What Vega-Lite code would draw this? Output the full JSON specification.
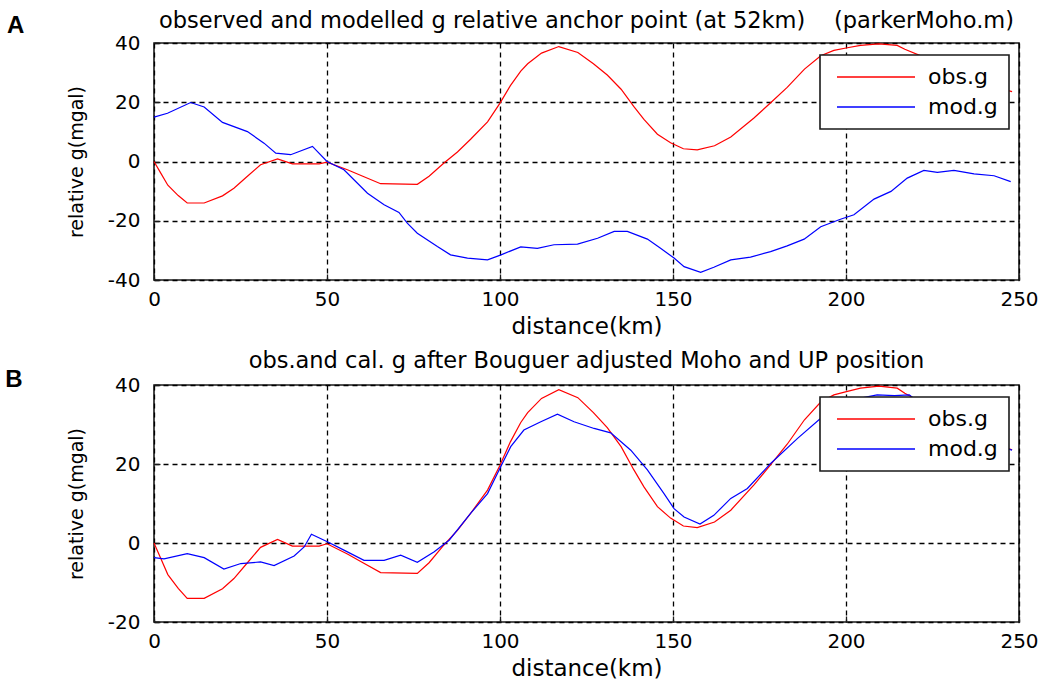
{
  "$schema": "https://vega.github.io/schema/vega-lite/v6.json",
  "background": "white",
  "padding": {"left": 4, "top": 8, "right": 0, "bottom": 0},
  "bounds": "flush",
  "spacing": 105,
  "config": {
    "font": "DejaVu Sans",
    "view": {"stroke": "#1a1a1a", "strokeWidth": 1.6},
    "axis": {
      "domain": false,
      "grid": true,
      "gridColor": "#000000",
      "gridDash": [5, 4],
      "gridOpacity": 1,
      "gridWidth": 1.3,
      "ticks": true,
      "tickSize": -6,
      "tickColor": "#1a1a1a",
      "tickWidth": 1.3,
      "labelFont": "DejaVu Sans",
      "labelFontSize": 20,
      "labelColor": "#000000",
      "labelPadding": 15,
      "labelExpr": "toString(datum.value)",
      "titleFont": "DejaVu Sans",
      "titleFontWeight": "normal",
      "titleColor": "#000000"
    },
    "axisX": {"titleFontSize": 23, "titlePadding": 6, "labelFlush": false},
    "axisY": {"titleFontSize": 19, "titlePadding": 21, "labelPadding": 20, "labelFlush": false},
    "title": {
      "font": "DejaVu Sans",
      "fontSize": 22.5,
      "fontWeight": "normal",
      "color": "#000000",
      "anchor": "middle",
      "baseline": "alphabetic"
    },
    "legend": {
      "orient": "none",
      "legendX": 666,
      "legendY": 12,
      "fillColor": "#ffffff",
      "strokeColor": "#1a1a1a",
      "strokeWidth": 1.6,
      "padding": 11,
      "symbolType": "stroke",
      "symbolSize": 6084,
      "symbolStrokeWidth": 1.5,
      "symbolOffset": 5,
      "labelOffset": 12,
      "labelFont": "DejaVu Sans",
      "labelFontSize": 22,
      "labelColor": "#000000",
      "clipHeight": 22,
      "rowPadding": 8
    }
  },
  "datasets": {
    "obs": [
      {"distance": 0, "g": 0}, {"distance": 2, "g": -4}, {"distance": 4, "g": -8},
      {"distance": 7, "g": -11.5}, {"distance": 9.6, "g": -14}, {"distance": 14.5, "g": -14},
      {"distance": 19.8, "g": -11.6}, {"distance": 23.1, "g": -9}, {"distance": 27, "g": -5},
      {"distance": 30.8, "g": -1.1}, {"distance": 35.7, "g": 0.9}, {"distance": 40, "g": -0.8},
      {"distance": 47.7, "g": -0.8}, {"distance": 50, "g": -0.2}, {"distance": 55.9, "g": -2.8},
      {"distance": 60, "g": -4.8}, {"distance": 65.5, "g": -7.5}, {"distance": 76.1, "g": -7.7},
      {"distance": 79.5, "g": -5}, {"distance": 83.8, "g": -0.5}, {"distance": 87.7, "g": 3.2},
      {"distance": 91.5, "g": 7.5}, {"distance": 96.4, "g": 13.4}, {"distance": 100, "g": 19.7},
      {"distance": 103, "g": 25.6}, {"distance": 106, "g": 30.5}, {"distance": 108, "g": 33},
      {"distance": 112, "g": 36.6}, {"distance": 117, "g": 38.8}, {"distance": 122.5, "g": 36.8},
      {"distance": 127, "g": 33}, {"distance": 131, "g": 29.2}, {"distance": 135, "g": 24.4},
      {"distance": 138.7, "g": 18.5}, {"distance": 141.6, "g": 14.2}, {"distance": 145.5, "g": 9.2},
      {"distance": 149.3, "g": 6.3}, {"distance": 153, "g": 4.3}, {"distance": 157, "g": 3.9},
      {"distance": 162, "g": 5.3}, {"distance": 166.7, "g": 8.3}, {"distance": 173.4, "g": 14.7},
      {"distance": 178.3, "g": 19.9}, {"distance": 183, "g": 25}, {"distance": 188, "g": 31.2},
      {"distance": 192.7, "g": 35.7}, {"distance": 196.5, "g": 37.5}, {"distance": 200.4, "g": 38.4},
      {"distance": 204.2, "g": 39.2}, {"distance": 209.5, "g": 39.7}, {"distance": 214.8, "g": 39.2},
      {"distance": 217, "g": 37.9}, {"distance": 222, "g": 35.5}, {"distance": 228, "g": 32.5},
      {"distance": 234, "g": 29.5}, {"distance": 240, "g": 26.5}, {"distance": 245, "g": 24.5},
      {"distance": 248, "g": 23.6}
    ],
    "modA": [
      {"distance": 0, "g": 15}, {"distance": 3.9, "g": 16.3}, {"distance": 10.6, "g": 19.9},
      {"distance": 14.5, "g": 18.4}, {"distance": 19.8, "g": 13.2}, {"distance": 27, "g": 10.1},
      {"distance": 31.8, "g": 6.2}, {"distance": 35.2, "g": 2.8}, {"distance": 39.5, "g": 2.3},
      {"distance": 45.8, "g": 5.1}, {"distance": 50, "g": 0}, {"distance": 54.9, "g": -2.8},
      {"distance": 61.7, "g": -10.7}, {"distance": 66.5, "g": -14.6}, {"distance": 70.8, "g": -17.2},
      {"distance": 73.2, "g": -20.8}, {"distance": 76.1, "g": -24.2}, {"distance": 81.9, "g": -28.7},
      {"distance": 85.7, "g": -31.5}, {"distance": 90.6, "g": -32.6}, {"distance": 96.4, "g": -33.2},
      {"distance": 100.3, "g": -31.5}, {"distance": 106, "g": -28.8}, {"distance": 110.8, "g": -29.3},
      {"distance": 115.6, "g": -28.1}, {"distance": 122.4, "g": -27.9}, {"distance": 128.2, "g": -25.9},
      {"distance": 133, "g": -23.6}, {"distance": 136.8, "g": -23.6}, {"distance": 142.6, "g": -26.2},
      {"distance": 146.4, "g": -29.3}, {"distance": 150.3, "g": -32.6}, {"distance": 153.2, "g": -35.5},
      {"distance": 158, "g": -37.4}, {"distance": 161.8, "g": -35.7}, {"distance": 166.7, "g": -33.2},
      {"distance": 172.4, "g": -32.3}, {"distance": 178.2, "g": -30.4}, {"distance": 183, "g": -28.5},
      {"distance": 187.9, "g": -26.2}, {"distance": 192.7, "g": -22}, {"distance": 198.4, "g": -19.5},
      {"distance": 202.3, "g": -18}, {"distance": 208.1, "g": -12.7}, {"distance": 213, "g": -10.1},
      {"distance": 217.7, "g": -5.6}, {"distance": 222.5, "g": -3}, {"distance": 226.4, "g": -3.7},
      {"distance": 231.2, "g": -3}, {"distance": 237, "g": -4.2}, {"distance": 242.8, "g": -4.8},
      {"distance": 247.6, "g": -6.8}
    ],
    "modB": [
      {"distance": 0, "g": -3.7}, {"distance": 2.9, "g": -4}, {"distance": 9.6, "g": -2.7},
      {"distance": 14.5, "g": -3.7}, {"distance": 20.2, "g": -6.6}, {"distance": 25.1, "g": -5.2},
      {"distance": 30.8, "g": -4.8}, {"distance": 34.7, "g": -5.7}, {"distance": 40.5, "g": -3.3},
      {"distance": 43.4, "g": -1}, {"distance": 45.5, "g": 2.2}, {"distance": 50.1, "g": 0.3},
      {"distance": 54.9, "g": -1.8}, {"distance": 60.7, "g": -4.4}, {"distance": 66.5, "g": -4.4},
      {"distance": 71.3, "g": -3.1}, {"distance": 76.1, "g": -4.9}, {"distance": 81, "g": -2.2},
      {"distance": 85.3, "g": 0.7}, {"distance": 91.5, "g": 7.5}, {"distance": 96.4, "g": 12.5},
      {"distance": 100.2, "g": 19.3}, {"distance": 103.1, "g": 24.4}, {"distance": 106.9, "g": 28.6},
      {"distance": 111.8, "g": 30.7}, {"distance": 116.6, "g": 32.6}, {"distance": 121.4, "g": 30.7},
      {"distance": 127.2, "g": 29}, {"distance": 132, "g": 27.9}, {"distance": 137.8, "g": 23.5},
      {"distance": 142.6, "g": 18.5}, {"distance": 147.4, "g": 12.5}, {"distance": 150.3, "g": 8.7},
      {"distance": 153.2, "g": 6.6}, {"distance": 157.8, "g": 4.8}, {"distance": 161.8, "g": 7},
      {"distance": 166.7, "g": 11.3}, {"distance": 171.5, "g": 13.8}, {"distance": 178.3, "g": 20.2},
      {"distance": 186, "g": 26.5}, {"distance": 192.7, "g": 31.6}, {"distance": 199, "g": 35},
      {"distance": 205, "g": 36.8}, {"distance": 209, "g": 37.5}, {"distance": 214, "g": 37.3},
      {"distance": 218.3, "g": 37.5}, {"distance": 224, "g": 33.5}, {"distance": 230, "g": 30},
      {"distance": 236, "g": 27.5}, {"distance": 242, "g": 25}, {"distance": 248, "g": 23.5}
    ]
  },
  "vconcat": [
    {
      "width": 865,
      "height": 237,
      "title": {"text": "observed and modelled g relative anchor point (at 52km)\u00a0\u00a0\u00a0\u00a0(parkerMoho.m)", "offset": -18},
      "layer": [
        {
          "data": {"name": "obs"},
          "mark": {"type": "line", "strokeWidth": 1.2},
          "encoding": {
            "x": {"field": "distance", "type": "quantitative", "scale": {"domain": [0, 250], "nice": false},
                  "axis": {"title": "distance(km)", "values": [0, 50, 100, 150, 200, 250]}},
            "y": {"field": "g", "type": "quantitative", "scale": {"domain": [-40, 40], "nice": false},
                  "axis": {"title": "relative g(mgal)", "values": [-40, -20, 0, 20, 40]}},
            "color": {"datum": "obs.g", "type": "nominal",
                      "scale": {"domain": ["obs.g", "mod.g"], "range": ["#ff0000", "#0000ff"]},
                      "legend": {"title": null}}
          }
        },
        {
          "data": {"name": "modA"},
          "mark": {"type": "line", "strokeWidth": 1.2},
          "encoding": {
            "x": {"field": "distance", "type": "quantitative"},
            "y": {"field": "g", "type": "quantitative"},
            "color": {"datum": "mod.g", "type": "nominal"}
          }
        },
        {
          "data": {"values": [{"panel": "A"}]},
          "mark": {"type": "text", "font": "Liberation Sans", "fontWeight": "bold", "fontSize": 24, "align": "left", "baseline": "alphabetic", "color": "#000000"},
          "encoding": {
            "x": {"datum": -42.5},
            "y": {"datum": 43.3},
            "text": {"field": "panel"}
          }
        }
      ]
    },
    {
      "width": 865,
      "height": 237,
      "title": {"text": "obs.and cal. g after Bouguer adjusted Moho and UP position", "offset": -4},
      "layer": [
        {
          "data": {"name": "obs"},
          "mark": {"type": "line", "strokeWidth": 1.2},
          "encoding": {
            "x": {"field": "distance", "type": "quantitative", "scale": {"domain": [0, 250], "nice": false},
                  "axis": {"title": "distance(km)", "values": [0, 50, 100, 150, 200, 250]}},
            "y": {"field": "g", "type": "quantitative", "scale": {"domain": [-20, 40], "nice": false},
                  "axis": {"title": "relative g(mgal)", "values": [-20, 0, 20, 40]}},
            "color": {"datum": "obs.g", "type": "nominal",
                      "scale": {"domain": ["obs.g", "mod.g"], "range": ["#ff0000", "#0000ff"]},
                      "legend": {"title": null}}
          }
        },
        {
          "data": {"name": "modB"},
          "mark": {"type": "line", "strokeWidth": 1.2},
          "encoding": {
            "x": {"field": "distance", "type": "quantitative"},
            "y": {"field": "g", "type": "quantitative"},
            "color": {"datum": "mod.g", "type": "nominal"}
          }
        },
        {
          "data": {"values": [{"panel": "B"}]},
          "mark": {"type": "text", "font": "Liberation Sans", "fontWeight": "bold", "fontSize": 24, "align": "left", "baseline": "alphabetic", "color": "#000000"},
          "encoding": {
            "x": {"datum": -43},
            "y": {"datum": 39.4},
            "text": {"field": "panel"}
          }
        }
      ]
    }
  ],
  "resolve": {
    "scale": {"x": "independent", "y": "independent", "color": "independent"},
    "legend": {"color": "independent"}
  }
}
